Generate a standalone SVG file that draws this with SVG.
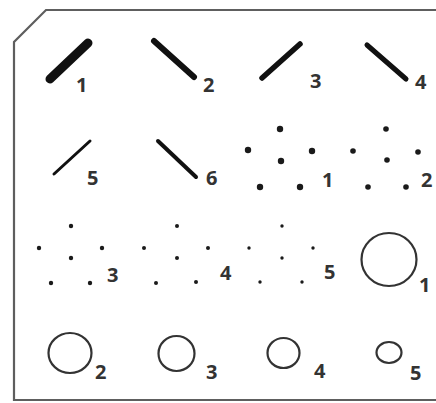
<svg xmlns="http://www.w3.org/2000/svg" width="436" height="403" viewBox="0 0 436 403">
<style>
.frame{fill:none;stroke:#5e5e5e;stroke-width:2.2}
.bar{stroke:#111;stroke-linecap:round;fill:none}
.dot{fill:#1a1a1a}
.ring{fill:none;stroke:#333;stroke-width:2.2}
text{font-family:"Open Sans","Liberation Sans",sans-serif;font-size:20px;font-weight:700;fill:#333}
</style>
<rect width="436" height="403" fill="#fff"/>
<path class="frame" d="M436,10 H46 L14,42 V400 H436"/>
<g id="line1"><line class="bar" x1="50" y1="79" x2="88" y2="43" stroke-width="9"/><text x="76" y="92">1</text></g>
<g id="line2"><line class="bar" x1="154" y1="41" x2="194" y2="77" stroke-width="6"/><text x="203" y="92">2</text></g>
<g id="line3"><line class="bar" x1="262" y1="78" x2="300" y2="44" stroke-width="5.5"/><text x="310" y="88">3</text></g>
<g id="line4"><line class="bar" x1="367" y1="45" x2="406" y2="79" stroke-width="5"/><text x="415" y="89">4</text></g>
<g id="line5"><line class="bar" x1="54" y1="174" x2="90" y2="141" stroke-width="3"/><text x="87" y="185">5</text></g>
<g id="line6"><line class="bar" x1="158" y1="141" x2="196" y2="177" stroke-width="4"/><text x="206" y="185">6</text></g>
<g id="dots1"><circle class="dot" cx="280" cy="129" r="3.2"/><circle class="dot" cx="248" cy="150" r="3.2"/><circle class="dot" cx="312" cy="151" r="3.2"/><circle class="dot" cx="281" cy="161" r="3.2"/><circle class="dot" cx="260" cy="187" r="3.2"/><circle class="dot" cx="300" cy="187" r="3.2"/><text x="322" y="187">1</text></g>
<g id="dots2"><circle class="dot" cx="386" cy="129" r="2.8"/><circle class="dot" cx="353" cy="151" r="2.8"/><circle class="dot" cx="418" cy="152" r="2.8"/><circle class="dot" cx="387" cy="160" r="2.8"/><circle class="dot" cx="368" cy="187" r="2.8"/><circle class="dot" cx="406" cy="187" r="2.8"/><text x="421" y="187">2</text></g>
<g id="dots3"><circle class="dot" cx="71" cy="226" r="2.2"/><circle class="dot" cx="39" cy="248" r="2.2"/><circle class="dot" cx="102" cy="248" r="2.2"/><circle class="dot" cx="71" cy="258" r="2.2"/><circle class="dot" cx="51" cy="283" r="2.2"/><circle class="dot" cx="90" cy="283" r="2.2"/><text x="107" y="282">3</text></g>
<g id="dots4"><circle class="dot" cx="177" cy="226" r="2"/><circle class="dot" cx="144" cy="248" r="2"/><circle class="dot" cx="208" cy="248" r="2"/><circle class="dot" cx="177" cy="258" r="2"/><circle class="dot" cx="156" cy="283" r="2"/><circle class="dot" cx="196" cy="282" r="2"/><text x="220" y="280">4</text></g>
<g id="dots5"><circle class="dot" cx="282" cy="226" r="1.7"/><circle class="dot" cx="249" cy="248" r="1.7"/><circle class="dot" cx="313" cy="248" r="1.7"/><circle class="dot" cx="282" cy="258" r="1.7"/><circle class="dot" cx="260" cy="282" r="1.7"/><circle class="dot" cx="302" cy="282" r="1.7"/><text x="324" y="279">5</text></g>
<g id="circle1"><ellipse class="ring" cx="389" cy="259.5" rx="27.5" ry="26.5"/><text x="419" y="292">1</text></g>
<g id="circle2"><ellipse class="ring" cx="70" cy="353" rx="21.5" ry="20"/><text x="95" y="379">2</text></g>
<g id="circle3"><ellipse class="ring" cx="176.5" cy="353.5" rx="18" ry="17.5"/><text x="206" y="379">3</text></g>
<g id="circle4"><ellipse class="ring" cx="283.5" cy="353" rx="16" ry="15"/><text x="314" y="378">4</text></g>
<g id="circle5"><ellipse class="ring" cx="389" cy="352.5" rx="12.5" ry="10.5"/><text x="410" y="380">5</text></g>
</svg>
